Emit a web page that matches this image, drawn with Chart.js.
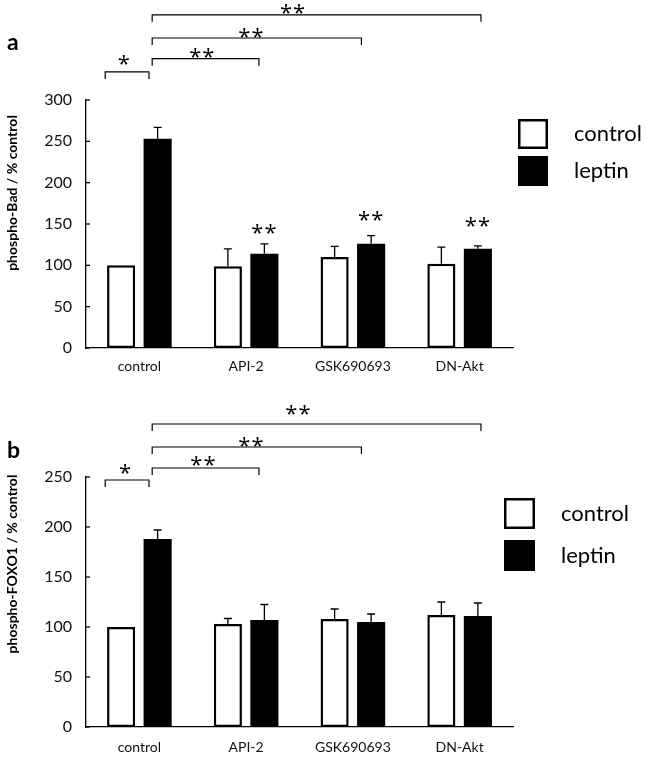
<!DOCTYPE html>
<html>
<head>
<meta charset="utf-8">
<script src="https://cdn.jsdelivr.net/npm/chart.js@4/dist/chart.umd.min.js"></script>
<style>
  html, body { margin: 0; padding: 0; background: #fff; }
  .panel { position: relative; width: 646px; height: 383px; }
</style>
</head>
<body>
<div class="panel"><canvas id="chartA"></canvas></div>
<div class="panel"><canvas id="chartB"></canvas></div>
<script>
// ── Daten ──────────────────────────────────────────────────────────────────

const categories   = ['control', 'API-2', 'GSK690693', 'DN-Akt'];
const seriesLabels = ['control', 'leptin'];

// Panel a: phospho-Bad
const badControl     = [100, 99, 110, 102];
const badControlErr  = [0, 21, 13, 20];
const badLeptin      = [253, 114, 126, 120];
const badLeptinErr   = [14, 12, 10, 3.5];
const badStars       = ['', '**', '**', '**'];
const badStarValue   = [null, 145, 161, 154];
// [von, bis (Kategorie-Einheiten), Höhe (Wert), Label, Label-x, Label-Wert]
const badBrackets = [
    [-0.32, 0.09, 334, '*',  -0.14, 349],
    [ 0.12, 1.12, 350, '**',  0.59, 358],
    [ 0.12, 2.08, 375, '**',  1.05, 382],
    [ 0.12, 3.20, 403, '**',  1.44, 411],
];

// Panel b: phospho-FOXO1
const foxoControl    = [100, 103, 108, 112];
const foxoControlErr = [0, 5.5, 10, 13];
const foxoLeptin     = [188, 107, 105, 111];
const foxoLeptinErr  = [9, 15.5, 8, 13];
const foxoBrackets = [
    [-0.32, 0.09, 247, '*',  -0.13, 259],
    [ 0.12, 1.12, 259, '**',  0.60, 267],
    [ 0.12, 2.08, 280, '**',  1.05, 286],
    [ 0.12, 3.20, 303, '**',  1.49, 318],
];

const FONT = 'Lato, "Open Sans", sans-serif';
const STAR_FONT = '"Open Sans", "DejaVu Sans", sans-serif';

// ── Zusatz-Zeichnungen: Fehlerbalken, Klammern, Legende, Titel ─────────────

function extrasPlugin(p) {
    return {
        id: 'extras',
        afterDraw(chart) {
            const ctx = chart.ctx;
            const xs = chart.scales.x;
            const ys = chart.scales.y;
            const area = chart.chartArea;
            const c0 = xs.getPixelForValue(0);
            const cw = xs.getPixelForValue(1) - c0;
            const cx = v => c0 + v * cw;

            ctx.save();
            ctx.strokeStyle = '#000';
            ctx.fillStyle = '#000';

            // innere Ticks der y-Achse
            ctx.lineWidth = 1.3;
            ys.ticks.forEach(t => {
                const py = ys.getPixelForValue(t.value);
                ctx.beginPath();
                ctx.moveTo(area.left, py);
                ctx.lineTo(area.left + 4, py);
                ctx.stroke();
            });

            // Fehlerbalken (nur nach oben)
            chart.data.datasets.forEach((ds, di) => {
                const meta = chart.getDatasetMeta(di);
                ds.errors.forEach((e, i) => {
                    if (!e) return;
                    const bx = meta.data[i].x;
                    const top = ys.getPixelForValue(ds.data[i]);
                    const end = ys.getPixelForValue(ds.data[i] + e);
                    ctx.lineWidth = 1.3;
                    ctx.beginPath();
                    ctx.moveTo(bx, top);
                    ctx.lineTo(bx, end);
                    ctx.moveTo(bx - 4, end);
                    ctx.lineTo(bx + 4, end);
                    ctx.stroke();
                });
            });

            ctx.font = '22px ' + STAR_FONT;
            ctx.textAlign = 'center';
            ctx.textBaseline = 'alphabetic';
            ctx.letterSpacing = '1px';

            // Sterne über den leptin-Balken
            if (p.stars) {
                const meta = chart.getDatasetMeta(1);
                p.stars.forEach((s, i) => {
                    if (!s) return;
                    ctx.fillText(s, meta.data[i].x, ys.getPixelForValue(p.starValue[i]) + 12);
                });
            }

            // Signifikanz-Klammern
            p.brackets.forEach(([from, to, level, label, lx, lv]) => {
                const py = ys.getPixelForValue(level);
                ctx.lineWidth = 1.2;
                ctx.beginPath();
                ctx.moveTo(cx(from), py + 7);
                ctx.lineTo(cx(from), py);
                ctx.lineTo(cx(to), py);
                ctx.lineTo(cx(to), py + 7);
                ctx.stroke();
                ctx.fillText(label, cx(lx), ys.getPixelForValue(lv) + 12);
            });
            ctx.letterSpacing = '0px';

            // Legende
            const lg = p.legend;
            chart.data.datasets.forEach((ds, di) => {
                const top = lg.top + di * lg.step;
                if (ds.backgroundColor === '#000') {
                    ctx.fillRect(lg.left, top, lg.size, lg.size);
                } else {
                    ctx.lineWidth = 2.5;
                    ctx.strokeRect(lg.left + 1.25, top + 1.25, lg.size - 2.5, lg.size - 2.5);
                }
                ctx.font = '22px ' + FONT;
                ctx.textAlign = 'left';
                ctx.textBaseline = 'middle';
                ctx.fillText(ds.label, lg.left + lg.size + 26, top + lg.size / 2);
            });

            // Achsentitel
            ctx.save();
            ctx.translate(12, p.titleY);
            ctx.rotate(-Math.PI / 2);
            ctx.font = 'bold 14px ' + FONT;
            ctx.textAlign = 'center';
            ctx.textBaseline = 'middle';
            ctx.fillText(p.title, 0, 0);
            ctx.restore();

            // Panel-Buchstabe
            ctx.font = 'bold 23px ' + FONT;
            ctx.textAlign = 'left';
            ctx.textBaseline = 'alphabetic';
            ctx.fillText(p.letter, 7, p.letterY);

            ctx.restore();
        },
    };
}

// ── Chart rendern ──────────────────────────────────────────────────────────

function makePanel(canvasId, p) {
    const canvas = document.getElementById(canvasId);
    return new Chart(canvas, {
        type: 'bar',
        data: {
            labels: categories,
            datasets: [
                {
                    label: seriesLabels[0],
                    data: p.control,
                    errors: p.controlErr,
                    backgroundColor: '#fff',
                    borderColor: '#000',
                    borderWidth: 2.5,
                    borderSkipped: false,
                },
                {
                    label: seriesLabels[1],
                    data: p.leptin,
                    errors: p.leptinErr,
                    backgroundColor: '#000',
                    borderColor: '#000',
                    borderWidth: 0,
                },
            ],
        },
        options: {
            responsive: true,
            maintainAspectRatio: false,
            animation: false,
            categoryPercentage: 0.684,
            barPercentage: 0.77,
            layout: { padding: { left: 0, top: p.padTop, right: 133, bottom: 0 } },
            plugins: {
                legend: { display: false },
                tooltip: { enabled: false },
            },
            scales: {
                x: {
                    grid: { display: false, drawTicks: false },
                    border: { display: true, color: '#000', width: 1.3 },
                    ticks: { color: '#111', font: { family: FONT, size: 14 }, padding: p.xPad },
                    afterFit(s) { s.height = p.xHeight; },
                },
                y: {
                    min: 0,
                    max: p.max,
                    grid: { display: false, drawTicks: false },
                    border: { display: true, color: '#000', width: 1.3 },
                    ticks: { stepSize: 50, color: '#111', font: { family: FONT, size: 16 }, padding: 14 },
                    afterFit(s) { s.width = 86; },
                },
            },
        },
        plugins: [extrasPlugin(p)],
    });
}

makePanel('chartA', {
    control: badControl, controlErr: badControlErr,
    leptin: badLeptin, leptinErr: badLeptinErr,
    stars: badStars, starValue: badStarValue,
    brackets: badBrackets,
    max: 300, padTop: 100, xHeight: 35, xPad: 10,
    legend: { left: 518, top: 119, size: 30, step: 37 },
    title: 'phospho-Bad / % control', titleY: 193,
    letter: 'a', letterY: 50,
});

makePanel('chartB', {
    control: foxoControl, controlErr: foxoControlErr,
    leptin: foxoLeptin, leptinErr: foxoLeptinErr,
    stars: null, starValue: null,
    brackets: foxoBrackets,
    max: 250, padTop: 94, xHeight: 39, xPad: 12,
    legend: { left: 504, top: 115, size: 31, step: 42 },
    title: 'phospho-FOXO1 / % control', titleY: 181,
    letter: 'b', letterY: 75,
});
</script>
</body>
</html>
